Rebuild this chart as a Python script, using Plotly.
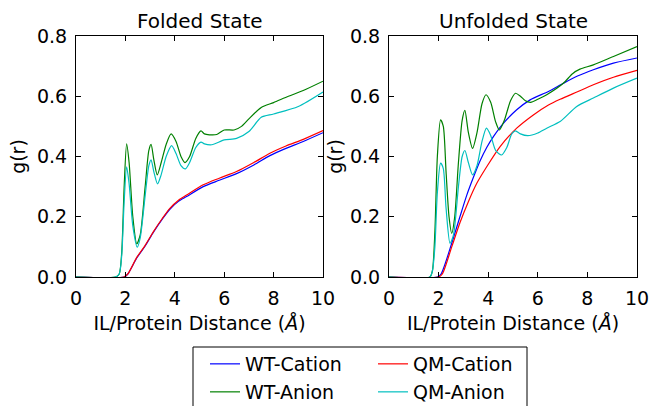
import plotly.graph_objects as go

# ---- Folded state: radial distribution g(r) vs IL/protein distance ----
fold_wt_cat_x = [0, 1.95, 2.1, 2.46, 2.8, 3.13, 3.5, 3.8, 4.15, 4.48, 5.15, 5.8, 6.5, 7.2, 7.85, 8.5, 9.2, 10]
fold_wt_cat_y = [0, 0, 0.01, 0.063, 0.103, 0.148, 0.193, 0.225, 0.251, 0.267, 0.3, 0.321, 0.343, 0.372, 0.403, 0.427, 0.45, 0.479]
fold_qm_cat_x = [0, 1.95, 2.1, 2.46, 2.8, 3.13, 3.5, 3.8, 4.15, 4.48, 5.15, 5.8, 6.5, 7.2, 7.85, 8.5, 9.2, 10]
fold_qm_cat_y = [0, 0, 0.01, 0.065, 0.105, 0.15, 0.195, 0.228, 0.255, 0.272, 0.306, 0.328, 0.35, 0.38, 0.411, 0.435, 0.457, 0.486]
fold_wt_an_x = [0, 1.6, 1.75, 1.85, 1.95, 2.05, 2.15, 2.3, 2.46, 2.6, 2.8, 2.95, 3.04, 3.15, 3.29, 3.45, 3.65, 3.85,
                4.05, 4.25, 4.41, 4.6, 4.85, 5.06, 5.2, 5.4, 5.7, 6.0, 6.4, 6.7, 7.0, 7.5, 8.0, 8.6, 9.2, 10]
fold_wt_an_y = [0, 0, 0.01, 0.08, 0.3, 0.442, 0.38, 0.2, 0.11, 0.14, 0.3, 0.42, 0.44, 0.39, 0.339, 0.38, 0.44, 0.475,
                0.45, 0.4, 0.38, 0.4, 0.46, 0.485, 0.475, 0.472, 0.473, 0.488, 0.488, 0.5, 0.525, 0.563, 0.579, 0.6, 0.619, 0.65]
fold_qm_an_x = [0, 1.6, 1.75, 1.85, 1.95, 2.05, 2.15, 2.3, 2.48, 2.6, 2.8, 2.95, 3.04, 3.15, 3.3, 3.45, 3.65, 3.87,
                4.05, 4.25, 4.43, 4.6, 4.85, 5.06, 5.2, 5.5, 6.0, 6.5, 7.0, 7.5, 8.0, 9.0, 10]
fold_qm_an_y = [0, 0, 0.01, 0.07, 0.25, 0.366, 0.31, 0.17, 0.099, 0.13, 0.27, 0.37, 0.389, 0.35, 0.309, 0.34, 0.40, 0.436,
                0.41, 0.37, 0.359, 0.38, 0.43, 0.448, 0.442, 0.439, 0.455, 0.46, 0.483, 0.53, 0.541, 0.566, 0.614]

# ---- Unfolded state ----
unf_wt_cat_x = [0, 1.95, 2.1, 2.53, 2.86, 3.13, 3.4, 3.67, 3.94, 4.21, 4.61, 5.15, 5.69, 6.43, 7.03, 7.6, 8.24, 9.05, 10]
unf_wt_cat_y = [0, 0, 0.01, 0.112, 0.2, 0.27, 0.33, 0.385, 0.43, 0.466, 0.51, 0.555, 0.588, 0.616, 0.643, 0.667, 0.688, 0.71, 0.727]
unf_qm_cat_x = [0, 2.0, 2.15, 2.53, 2.86, 3.2, 3.54, 3.94, 4.48, 5.15, 5.82, 6.43, 6.9, 7.6, 8.24, 9.05, 10]
unf_qm_cat_y = [0, 0, 0.01, 0.1, 0.18, 0.25, 0.311, 0.366, 0.433, 0.494, 0.538, 0.571, 0.59, 0.615, 0.638, 0.663, 0.686]
unf_wt_an_x = [0, 1.65, 1.75, 1.85, 1.95, 2.08, 2.19, 2.3, 2.42, 2.53, 2.65, 2.8, 2.95, 3.06, 3.2, 3.37, 3.55, 3.75, 3.91,
               4.1, 4.3, 4.45, 4.65, 4.9, 5.1, 5.3, 5.5, 5.71, 6.0, 6.36, 7.03, 7.4, 7.7, 8.24, 9.05, 10]
unf_wt_an_y = [0, 0, 0.02, 0.15, 0.4, 0.522, 0.5, 0.35, 0.2, 0.145, 0.2, 0.38, 0.52, 0.553, 0.48, 0.427, 0.48, 0.575, 0.605,
               0.58, 0.515, 0.488, 0.52, 0.585, 0.61, 0.6, 0.585, 0.58, 0.59, 0.605, 0.643, 0.675, 0.69, 0.704, 0.732, 0.765]
unf_qm_an_x = [0, 1.65, 1.75, 1.85, 1.95, 2.08, 2.19, 2.3, 2.46, 2.6, 2.8, 2.95, 3.06, 3.2, 3.37, 3.55, 3.75, 3.93,
               4.1, 4.3, 4.54, 4.75, 4.95, 5.1, 5.3, 5.6, 6.0, 6.36, 6.9, 7.57, 8.24, 9.05, 10]
unf_qm_an_y = [0, 0, 0.02, 0.1, 0.28, 0.378, 0.36, 0.23, 0.112, 0.14, 0.3, 0.4, 0.42, 0.38, 0.339, 0.37, 0.45, 0.494,
               0.47, 0.42, 0.405, 0.43, 0.475, 0.485, 0.475, 0.469, 0.478, 0.494, 0.516, 0.566, 0.594, 0.627, 0.66]

series_names = ["WT-Cation", "QM-Cation", "WT-Anion", "QM-Anion"]
series_colors = ["#0000ff", "#ff0000", "#008000", "#00bfbf"]
# cations go in the first legend row, anions in the second
series_legend = ["legend", "legend", "legend2", "legend2"]
panel_titles = ["Folded State", "Unfolded State"]
x_ticks = [0, 2, 4, 6, 8, 10]
y_ticks = [0.0, 0.2, 0.4, 0.6, 0.8]
y_tick_text = ["0.0", "0.2", "0.4", "0.6", "0.8"]

FONT = "DejaVu Sans"
W, H = 651, 406

panels = [
    [(fold_wt_cat_x, fold_wt_cat_y), (fold_qm_cat_x, fold_qm_cat_y),
     (fold_wt_an_x, fold_wt_an_y), (fold_qm_an_x, fold_qm_an_y)],
    [(unf_wt_cat_x, unf_wt_cat_y), (unf_qm_cat_x, unf_qm_cat_y),
     (unf_wt_an_x, unf_wt_an_y), (unf_qm_an_x, unf_qm_an_y)],
]

fig = go.Figure()

for p, data in enumerate(panels):
    xa = "x" if p == 0 else "x2"
    ya = "y" if p == 0 else "y2"
    for i, (xs, ys) in enumerate(data):
        fig.add_trace(go.Scatter(
            x=xs, y=ys, mode="lines", name=series_names[i],
            line=dict(color=series_colors[i], width=1.2, shape="spline", smoothing=0.7),
            xaxis=xa, yaxis=ya, showlegend=(p == 0), legend=series_legend[i],
        ))

# plot-area geometry in pixels
left_px = [(76, 323), (389, 637)]
top_px, bot_px = 36, 277
ydom = [(H - bot_px) / H, (H - top_px) / H]

axis_common = dict(
    showline=True, linecolor="black", linewidth=1, mirror="ticks",
    ticks="inside", ticklen=5, tickcolor="black", tickwidth=1,
    showgrid=False, zeroline=False,
    tickfont=dict(family=FONT, size=19, color="black"),
)

legend_common = dict(
    orientation="h", x=205 / W, xanchor="left", yanchor="top",
    borderwidth=0, bgcolor="rgba(0,0,0,0)",
    entrywidth=123, entrywidthmode="pixels", traceorder="normal",
    font=dict(family=FONT, size=19, color="black"),
)

layout = dict(
    width=W, height=H,
    margin=dict(l=0, r=0, t=0, b=0, autoexpand=False),
    paper_bgcolor="white", plot_bgcolor="white",
    font=dict(family=FONT, size=19, color="black"),
    showlegend=True,
    legend=dict(legend_common, y=(H - 345) / H),
    legend2=dict(legend_common, y=(H - 373) / H),
    # legend frame
    shapes=[dict(type="rect", xref="paper", yref="paper",
                 x0=193 / W, x1=527 / W, y0=-0.2, y1=(H - 347) / H,
                 line=dict(color="black", width=1), fillcolor="rgba(0,0,0,0)", layer="below")],
)

for p in range(2):
    sx = "" if p == 0 else "2"
    l, r = left_px[p]
    layout["xaxis" + sx] = dict(
        axis_common, domain=[l / W, r / W], range=[0, 10], tickvals=x_ticks,
        anchor="y" + sx, ticklabelstandoff=4,
        title=dict(text="IL/Protein Distance (<i>Å</i>)", standoff=8,
                   font=dict(family=FONT, size=19, color="black")),
    )
    layout["yaxis" + sx] = dict(
        axis_common, domain=ydom, range=[0, 0.8], tickvals=y_ticks, ticktext=y_tick_text,
        anchor="x" + sx, ticklabelstandoff=4,
        title=dict(text="g(r)", standoff=6 if p == 0 else 2,
                   font=dict(family=FONT, size=19, color="black")),
    )

fig.update_layout(**layout)

for p in range(2):
    l, r = left_px[p]
    fig.add_annotation(
        text=panel_titles[p], xref="paper", yref="paper",
        x=(l + r) / 2 / W, y=ydom[1], xanchor="center", yanchor="bottom",
        yshift=1, showarrow=False, font=dict(family=FONT, size=20, color="black"),
    )

fig.write_html("out.html")
